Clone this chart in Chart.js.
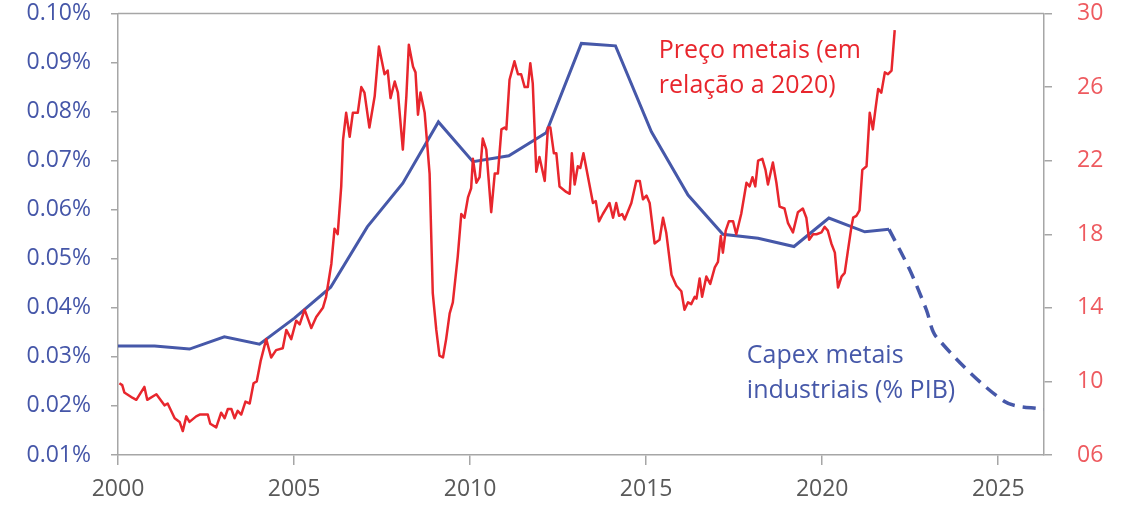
<!DOCTYPE html>
<html>
<head>
<meta charset="utf-8">
<script src="https://cdn.jsdelivr.net/npm/chart.js@4.4.1/dist/chart.umd.min.js"></script>
<style>
  html, body { margin: 0; padding: 0; background: #fff; }
  #wrap { width: 1127px; height: 507px; }
</style>
</head>
<body>
<div id="wrap"><canvas id="chart" width="1127" height="507"></canvas></div>
<script>
// Metal prices (right axis, relative to 2020)
const priceDates = [
  2000.04, 2000.12, 2000.18, 2000.42, 2000.52, 2000.75, 2000.83, 2001.09, 2001.32, 2001.41,
  2001.61, 2001.75, 2001.84, 2001.94, 2002.03, 2002.22, 2002.32, 2002.55, 2002.62, 2002.79,
  2002.93, 2003.03, 2003.12, 2003.22, 2003.31, 2003.40, 2003.50, 2003.62, 2003.74, 2003.85,
  2003.94, 2004.05, 2004.21, 2004.35, 2004.49, 2004.68, 2004.78, 2004.92, 2005.06, 2005.16,
  2005.30, 2005.49, 2005.63, 2005.82, 2005.91, 2006.06, 2006.15, 2006.24, 2006.34, 2006.39,
  2006.48, 2006.58, 2006.67, 2006.81, 2006.91, 2007.00, 2007.14, 2007.29, 2007.41, 2007.57,
  2007.66, 2007.74, 2007.86, 2007.95, 2008.09, 2008.19, 2008.26, 2008.38, 2008.45, 2008.52,
  2008.59, 2008.71, 2008.85, 2008.94, 2009.04, 2009.13, 2009.23, 2009.32, 2009.42, 2009.51,
  2009.65, 2009.75, 2009.84, 2009.94, 2010.03, 2010.08, 2010.18, 2010.27, 2010.36, 2010.46,
  2010.60, 2010.70, 2010.79, 2010.89, 2010.98, 2011.03, 2011.12, 2011.26, 2011.36, 2011.45,
  2011.55, 2011.64, 2011.71, 2011.78, 2011.88, 2011.97, 2012.12, 2012.21, 2012.28, 2012.38,
  2012.45, 2012.54, 2012.73, 2012.83, 2012.89, 2012.97, 2013.06, 2013.13, 2013.22, 2013.35,
  2013.49, 2013.57, 2013.66, 2013.77, 2013.96, 2014.06, 2014.15, 2014.23, 2014.32, 2014.39,
  2014.58, 2014.72, 2014.82, 2014.91, 2015.01, 2015.10, 2015.24, 2015.38, 2015.48, 2015.57,
  2015.72, 2015.86, 2016.00, 2016.09, 2016.19, 2016.28, 2016.38, 2016.43, 2016.52, 2016.59,
  2016.71, 2016.82, 2016.95, 2017.04, 2017.12, 2017.18, 2017.26, 2017.35, 2017.47, 2017.56,
  2017.70, 2017.85, 2017.94, 2018.02, 2018.10, 2018.18, 2018.30, 2018.39, 2018.46, 2018.60,
  2018.70, 2018.79, 2018.93, 2019.03, 2019.17, 2019.31, 2019.45, 2019.55, 2019.63, 2019.74,
  2019.84, 2019.98, 2020.07, 2020.16, 2020.26, 2020.36, 2020.45, 2020.55, 2020.64, 2020.73,
  2020.83, 2020.88, 2020.97, 2021.06, 2021.14, 2021.26, 2021.35, 2021.44, 2021.52, 2021.59,
  2021.68, 2021.78, 2021.87, 2021.97, 2022.06
];
const priceValues = [
  9.9, 9.8, 9.4, 9.1, 9.0, 9.7, 9.0, 9.3, 8.7, 8.8,
  8.0, 7.8, 7.3, 8.1, 7.8, 8.1, 8.2, 8.2, 7.7, 7.5,
  8.3, 8.0, 8.5, 8.5, 8.0, 8.4, 8.2, 8.9, 8.8, 9.9,
  10.0, 11.1, 12.3, 11.3, 11.7, 11.8, 12.8, 12.3, 13.3, 13.1,
  13.9, 12.9, 13.5, 14.0, 14.6, 16.4, 18.3, 18.0, 20.6, 23.1,
  24.6, 23.3, 24.6, 24.6, 26.0, 25.7, 23.8, 25.5, 28.2, 26.7,
  26.9, 25.4, 26.3, 25.7, 22.6, 25.5, 28.3, 27.1, 26.8, 24.5,
  25.7, 24.6, 21.3, 14.8, 12.8, 11.4, 11.3, 12.3, 13.7, 14.3,
  16.8, 19.1, 18.9, 20.0, 20.5, 22.1, 20.8, 21.1, 23.2, 22.6,
  19.2, 21.3, 21.3, 23.7, 23.8, 23.7, 26.4, 27.4, 26.7, 26.7,
  26.0, 26.0, 27.3, 26.2, 21.4, 22.2, 20.9, 23.8, 23.8, 22.4,
  22.4, 20.6, 20.3, 20.2, 22.4, 20.7, 21.7, 21.6, 22.4, 21.1,
  19.7, 19.8, 18.7, 19.1, 19.7, 18.9, 19.7, 19.0, 19.1, 18.8,
  19.7, 20.9, 20.9, 19.9, 20.1, 19.7, 17.5, 17.7, 18.9, 18.1,
  15.8, 15.2, 14.9, 13.9, 14.3, 14.2, 14.6, 14.5, 15.6, 14.6,
  15.7, 15.3, 16.2, 16.5, 17.9, 17.0, 18.2, 18.7, 18.7, 18.0,
  19.1, 20.8, 20.6, 21.1, 20.6, 22.0, 22.1, 21.5, 20.7, 21.9,
  20.8, 19.5, 19.4, 18.6, 18.1, 19.2, 19.4, 18.9, 17.7, 18.0,
  18.0, 18.1, 18.4, 18.2, 17.5, 17.0, 15.1, 15.7, 15.9, 17.1,
  18.4, 18.9, 19.0, 19.3, 21.5, 21.7, 24.6, 23.7, 24.9, 25.9,
  25.7, 26.8, 26.7, 26.9, 29.1
];

// Capex in industrial metals (% of GDP, left axis)
const capexDates = [
  2000.00, 2001.04, 2002.03, 2003.02, 2004.02, 2005.01, 2006.04, 2007.08, 2008.09, 2009.10,
  2010.08, 2011.10, 2012.16, 2013.16, 2014.13, 2015.15, 2016.19, 2017.18, 2018.18, 2019.20,
  2020.19, 2021.21, 2021.90
];
const capexValues = [
  0.0322, 0.0322, 0.0316, 0.0341, 0.0326, 0.0379, 0.0442, 0.0565, 0.0654, 0.0779,
  0.0698, 0.0710, 0.0757, 0.0939, 0.0934, 0.0759, 0.0630, 0.0550, 0.0542, 0.0525,
  0.0583, 0.0555, 0.0560
];
// projected part (dashed)
const forecastDates = [2021.90, 2022.49, 2022.96, 2023.24, 2025.18, 2026.29];
const forecastValues = [0.0560, 0.0477, 0.0396, 0.0341, 0.0209, 0.0193];

const xTicks = [2000, 2005, 2010, 2015, 2020, 2025];

const axisGray = "#a6a6a6";
const blue = "#4658a9";
const red = "#e8262d";
const fontFamily = "'Open Sans', 'Noto Sans', sans-serif";

function toPoints(xs, ys) {
  return xs.map((x, i) => ({ x: x, y: ys[i] }));
}

// notes placed through the scales: [year, axis value]
const notes = [
  { lines: ["Preço metais (em", "relação a 2020)"], x: 2015.36, y: 27.57, axis: "y2", color: red },
  { lines: ["Capex metais", "industriais (% PIB)"], x: 2017.86, y: 0.0288, axis: "y", color: blue }
];

const framePlugin = {
  id: "frame",
  afterDatasetsDraw(chart) {
    const ctx = chart.ctx;
    const a = chart.chartArea;
    ctx.save();
    ctx.strokeStyle = axisGray;
    ctx.lineWidth = 1.5;
    ctx.beginPath();
    ctx.moveTo(a.left, a.top);
    ctx.lineTo(a.right, a.top);
    ctx.stroke();

    ctx.font = "25px " + fontFamily;
    ctx.textAlign = "left";
    ctx.textBaseline = "alphabetic";
    notes.forEach(n => {
      const px = chart.scales.x.getPixelForValue(n.x);
      const py = chart.scales[n.axis].getPixelForValue(n.y);
      ctx.fillStyle = n.color;
      n.lines.forEach((line, i) => ctx.fillText(line, px, py + i * 35));
    });
    ctx.restore();
  }
};

const tickFont = { family: fontFamily, size: 23 };

// keep the vertical axes from pushing the plot area down
function fixSide(width) {
  return s => {
    s.width = width;
    s.paddingTop = 0;
    s.paddingBottom = 0;
  };
}

new Chart(document.getElementById("chart"), {
  type: "line",
  data: {
    datasets: [
      {
        label: "Preço metais",
        data: toPoints(priceDates, priceValues),
        yAxisID: "y2",
        borderColor: red,
        borderWidth: 2.5,
        pointRadius: 0,
        tension: 0,
        borderJoinStyle: "round",
        fill: false
      },
      {
        label: "Capex metais industriais",
        data: toPoints(capexDates, capexValues),
        yAxisID: "y",
        borderColor: blue,
        borderWidth: 3,
        pointRadius: 0,
        tension: 0,
        fill: false
      },
      {
        label: "Capex projeção",
        data: toPoints(forecastDates, forecastValues),
        yAxisID: "y",
        borderColor: blue,
        borderWidth: 3.5,
        borderDash: [13, 8],
        pointRadius: 0,
        tension: 0.3,
        fill: false
      }
    ]
  },
  options: {
    responsive: false,
    animation: false,
    layout: { padding: { top: 13.5, left: 0, right: 0, bottom: 0 } },
    plugins: {
      legend: { display: false },
      tooltip: { enabled: false }
    },
    scales: {
      x: {
        type: "linear",
        min: 2000,
        max: 2026.3,
        afterFit: s => { s.height = 52; },
        afterBuildTicks: s => { s.ticks = xTicks.map(v => ({ value: v })); },
        ticks: {
          color: "#595959",
          font: tickFont,
          padding: 11,
          maxRotation: 0,
          callback: v => String(v)
        },
        grid: { drawOnChartArea: false, tickLength: 10, color: axisGray, lineWidth: 1.5 },
        border: { color: axisGray, width: 1.5 }
      },
      y: {
        position: "left",
        min: 0.01,
        max: 0.10,
        afterFit: fixSide(118),
        ticks: {
          stepSize: 0.01,
          color: "#4556a8",
          font: tickFont,
          padding: 20,
          callback: v => v.toFixed(2) + "%"
        },
        grid: { drawOnChartArea: false, tickLength: 7, color: axisGray, lineWidth: 1.5 },
        border: { color: axisGray, width: 1.5 }
      },
      y2: {
        position: "right",
        min: 6,
        max: 30,
        afterFit: fixSide(83),
        ticks: {
          stepSize: 4,
          color: "#ee5a5f",
          font: tickFont,
          padding: 25,
          callback: v => String(Math.round(v)).padStart(2, "0")
        },
        grid: { drawOnChartArea: false, tickLength: 8, color: axisGray, lineWidth: 1.5 },
        border: { color: axisGray, width: 1.5 }
      }
    }
  },
  plugins: [framePlugin]
});
</script>
</body>
</html>
